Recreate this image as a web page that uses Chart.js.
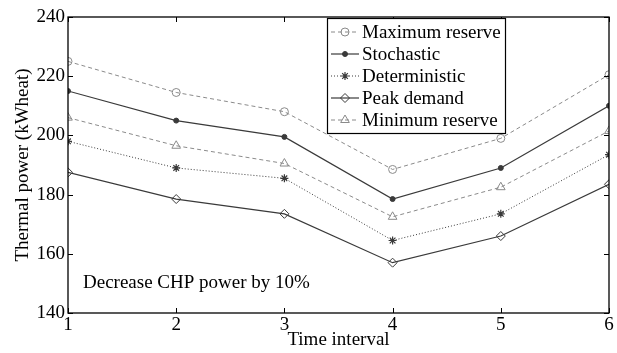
<!DOCTYPE html>
<html><head><meta charset="utf-8">
<script src="https://cdn.jsdelivr.net/npm/chart.js@4/dist/chart.umd.min.js"></script>
<style>html,body{margin:0;padding:0;background:#fff}#wrap{width:617px;height:353px}</style>
</head><body><div id="wrap"><canvas id="c" width="617" height="353"></canvas></div>
<script>
const timeIntervals = [1, 2, 3, 4, 5, 6];
const maximumReserve = [225, 214.5, 208, 188.5, 199, 220.5];
const stochastic = [215, 205, 199.5, 178.5, 189, 210];
const deterministic = [198, 189, 185.5, 164.5, 173.5, 193.5];
const peakDemand = [187.5, 178.5, 173.5, 157, 166, 183.5];
const minimumReserve = [206, 196.5, 190.5, 172.5, 182.5, 201.5];
const seriesNames = ['Maximum reserve', 'Stochastic', 'Deterministic', 'Peak demand', 'Minimum reserve'];
const xTicks = [1, 2, 3, 4, 5, 6];
const yTicks = [140, 160, 180, 200, 220, 240];
const annotationText = 'Decrease CHP power by 10%';

const FONT = 'Liberation Serif';
const GRAY = '#8a8a8a';
const DARK = '#3a3a3a';

function pts(vals) { return timeIntervals.map((t, i) => ({ x: t, y: vals[i] })); }

const datasets = [
  { label: seriesNames[0], data: pts(maximumReserve), borderColor: GRAY, borderDash: [4, 3], borderWidth: 1,
    pointStyle: 'circle', pointRadius: 4, pointBorderColor: GRAY, pointBackgroundColor: 'rgba(0,0,0,0)', pointBorderWidth: 1 },
  { label: seriesNames[1], data: pts(stochastic), borderColor: DARK, borderDash: [], borderWidth: 1.2,
    pointStyle: 'circle', pointRadius: 2.5, pointBorderColor: DARK, pointBackgroundColor: DARK, pointBorderWidth: 1 },
  { label: seriesNames[2], data: pts(deterministic), borderColor: DARK, borderDash: [1, 2], borderWidth: 1,
    pointStyle: 'star', pointRadius: 4, pointBorderColor: DARK, pointBackgroundColor: DARK, pointBorderWidth: 1.2 },
  { label: seriesNames[3], data: pts(peakDemand), borderColor: DARK, borderDash: [], borderWidth: 1.2,
    pointStyle: 'rectRot', pointRadius: 4.5, pointBorderColor: DARK, pointBackgroundColor: 'rgba(0,0,0,0)', pointBorderWidth: 1 },
  { label: seriesNames[4], data: pts(minimumReserve), borderColor: GRAY, borderDash: [4, 3], borderWidth: 1,
    pointStyle: 'triangle', pointRadius: 5, pointBorderColor: GRAY, pointBackgroundColor: 'rgba(0,0,0,0)', pointBorderWidth: 1 }
];
datasets.forEach(d => { d.fill = false; d.tension = 0; });

const framePlugin = {
  id: 'frame',
  afterDraw(chart) {
    const ctx = chart.ctx, a = chart.chartArea;
    const xs = chart.scales.x, ys = chart.scales.y;
    ctx.save();
    ctx.strokeStyle = '#000';
    ctx.lineWidth = 1.3;
    ctx.setLineDash([]);
    ctx.strokeRect(a.left, a.top, a.right - a.left, a.bottom - a.top);
    ctx.lineWidth = 1;
    const tl = 5;
    xTicks.forEach(v => {
      const p = Math.round(xs.getPixelForValue(v)) + 0.5;
      ctx.beginPath(); ctx.moveTo(p, a.bottom); ctx.lineTo(p, a.bottom - tl);
      ctx.moveTo(p, a.top); ctx.lineTo(p, a.top + tl); ctx.stroke();
    });
    yTicks.forEach(v => {
      const p = Math.round(ys.getPixelForValue(v)) + 0.5;
      ctx.beginPath(); ctx.moveTo(a.left, p); ctx.lineTo(a.left + tl, p);
      ctx.moveTo(a.right, p); ctx.lineTo(a.right - tl, p); ctx.stroke();
    });

    // annotation
    ctx.fillStyle = '#000';
    ctx.font = '19px "' + FONT + '"';
    ctx.textBaseline = 'middle';
    ctx.textAlign = 'left';
    ctx.fillText(annotationText, a.left + 15, a.bottom - 30);

    // legend
    const lx = a.left + 259, ly = a.top + 1, lw = 178, lh = 115;
    ctx.fillStyle = '#fff';
    ctx.fillRect(lx, ly, lw, lh);
    ctx.strokeStyle = '#000';
    ctx.lineWidth = 1.2;
    ctx.strokeRect(lx + 0.5, ly + 0.5, lw, lh);
    chart.data.datasets.forEach((d, i) => {
      const y = ly + 14 + i * 22;
      ctx.save();
      ctx.strokeStyle = d.borderColor;
      ctx.lineWidth = d.borderWidth;
      ctx.setLineDash(d.borderDash || []);
      ctx.beginPath(); ctx.moveTo(lx + 4, y); ctx.lineTo(lx + 32, y); ctx.stroke();
      ctx.setLineDash([]);
      ctx.strokeStyle = d.pointBorderColor;
      ctx.fillStyle = d.pointBackgroundColor;
      ctx.lineWidth = d.pointBorderWidth;
      Chart.helpers.drawPoint(ctx, { pointStyle: d.pointStyle, radius: d.pointRadius, rotation: 0, borderWidth: d.pointBorderWidth }, lx + 18, y);
      ctx.restore();
      ctx.fillStyle = '#000';
      ctx.font = '19px "' + FONT + '"';
      ctx.textBaseline = 'middle';
      ctx.fillText(d.label, lx + 35, y + 1);
    });
    ctx.restore();
  }
};

new Chart(document.getElementById('c'), {
  type: 'line',
  data: { datasets },
  options: {
    responsive: false,
    animation: false,
    devicePixelRatio: 1,
    layout: { padding: { top: 17, right: 8, left: 0, bottom: 0 } },
    plugins: { legend: { display: false }, tooltip: { enabled: false } },
    scales: {
      x: {
        type: 'linear', min: 1, max: 6,
        afterBuildTicks: s => { s.ticks = xTicks.map(v => ({ value: v })); },
        afterFit: s => { s.height = 40; },
        grid: { display: false, drawTicks: false },
        border: { display: false },
        ticks: { color: '#000', font: { family: FONT, size: 19 }, padding: 1, maxRotation: 0 },
        title: { display: true, text: 'Time interval', color: '#000', font: { family: FONT, size: 19 }, padding: { top: 0, bottom: 2 } }
      },
      y: {
        type: 'linear', min: 140, max: 240,
        afterBuildTicks: s => { s.ticks = yTicks.map(v => ({ value: v })); },
        afterFit: s => { s.width = 68; },
        grid: { display: false, drawTicks: false },
        border: { display: false },
        ticks: { color: '#000', font: { family: FONT, size: 19 }, padding: 3 },
        title: { display: true, text: 'Thermal power (kWheat)', color: '#000', font: { family: FONT, size: 19 }, padding: { top: 12, bottom: 0 } }
      }
    }
  },
  plugins: [framePlugin]
});
</script></body></html>
